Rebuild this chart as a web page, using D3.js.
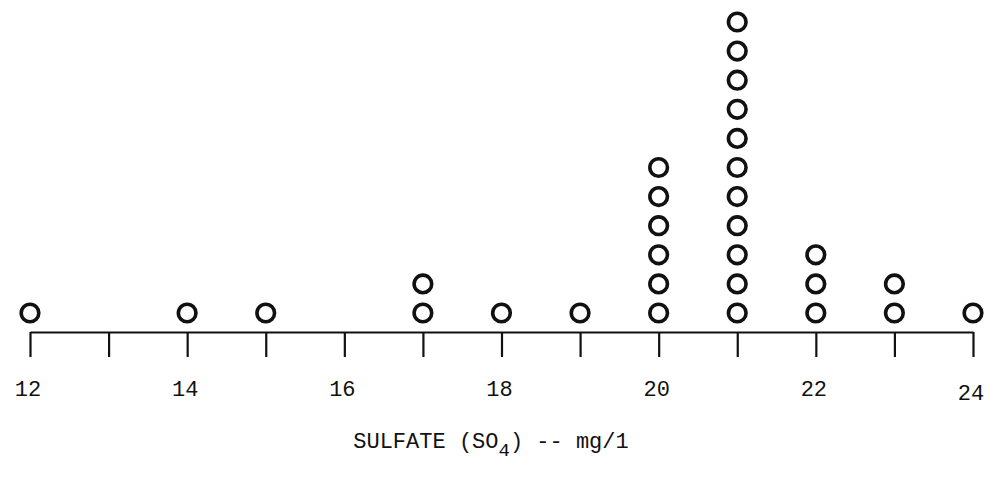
<!DOCTYPE html>
<html>
<head>
<meta charset="utf-8">
<script src="https://d3js.org/d3.v7.min.js"></script>
<style>
  body { margin: 0; background: #fff; }
  text { font-family: "Liberation Mono", "DejaVu Sans Mono", monospace; fill: #111; }
</style>
</head>
<body>
<div id="chart"></div>
<script>
// sulfate readings (mg/l) and how many samples fell on each value
const sulfateValues = [12, 14, 15, 17, 18, 19, 20, 21, 22, 23, 24];
const sampleCounts  = [1, 1, 1, 2, 1, 1, 6, 11, 3, 2, 1];
const tickValues    = [12, 13, 14, 15, 16, 17, 18, 19, 20, 21, 22, 23, 24];
const tickLabels    = [12, 14, 16, 18, 20, 22, 24];

const width = 1003, height = 477;
const axisY = 332;

const svg = d3.select("#chart")
    .append("svg")
    .attr("width", width)
    .attr("height", height);

const x = d3.scaleLinear().domain([12, 24]).range([30, 973]);
// stack position -> y of circle center
const y = d3.scaleLinear().domain([0, 10]).range([313, 22]);

// axis line and ticks
const axis = d3.axisBottom(x)
    .tickValues(tickValues)
    .tickSize(25)
    .tickSizeOuter(0)
    .tickFormat("");

const g = svg.append("g")
    .attr("transform", `translate(0, ${axisY})`)
    .call(axis);
g.select(".domain").attr("stroke", "#111").attr("stroke-width", 2.2);
g.selectAll(".tick line").attr("stroke", "#111").attr("stroke-width", 2.2);

// tick labels (only even values are labelled)
svg.selectAll("text.tick-label")
    .data(tickLabels)
    .enter()
    .append("text")
    .attr("class", "tick-label")
    .attr("x", d => x(d) - 2)
    .attr("y", d => d === 24 ? axisY + 68 : axisY + 64)
    .attr("text-anchor", "middle")
    .style("font-size", "22px")
    .text(d => d);

// one circle per sample, stacked above its value
const dots = [];
sulfateValues.forEach((v, i) => {
    for (let k = 0; k < sampleCounts[i]; k++) dots.push({ value: v, level: k });
});

svg.selectAll("circle.dot")
    .data(dots)
    .enter()
    .append("circle")
    .attr("class", "dot")
    .attr("cx", d => x(d.value))
    .attr("cy", d => y(d.level))
    .attr("r", 8.8)
    .attr("fill", "none")
    .attr("stroke", "#111")
    .attr("stroke-width", 3.6);

// axis title
const title = svg.append("text")
    .attr("x", 491)
    .attr("y", 448)
    .attr("text-anchor", "middle")
    .style("font-size", "22px");
title.append("tspan").text("SULFATE (SO");
title.append("tspan").attr("dy", 8).style("font-size", "19px").text("4");
title.append("tspan").attr("dy", -8).text(") -- mg/1");
</script>
</body>
</html>
